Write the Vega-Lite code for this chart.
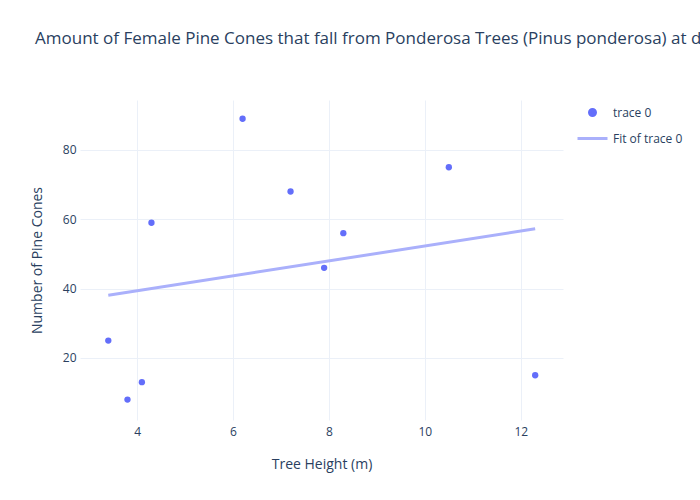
{
  "$schema": "https://vega.github.io/schema/vega-lite/v6.json",
  "width": 483,
  "height": 320,
  "autosize": "none",
  "padding": {"left": 80, "top": 100, "right": 137, "bottom": 80},
  "background": "white",
  "title": {
    "text": "Amount of Female Pine Cones that fall from Ponderosa Trees (Pinus ponderosa) at different Tree Heights",
    "anchor": "start",
    "frame": "group",
    "dx": -45,
    "offset": 48,
    "font": "Open Sans",
    "fontSize": 17,
    "fontWeight": "normal",
    "color": "#2a3f5f",
    "limit": 2000
  },
  "config": {
    "view": {"stroke": null},
    "axis": {
      "domain": false,
      "ticks": false,
      "gridColor": "#ebf0f8",
      "gridWidth": 1,
      "labelFont": "Open Sans",
      "labelFontSize": 12,
      "labelColor": "#2a3f5f",
      "titleFont": "Open Sans",
      "titleFontSize": 14,
      "titleFontWeight": "normal",
      "titleColor": "#2a3f5f"
    },
    "legend": {
      "title": null,
      "orient": "none",
      "legendX": 496,
      "legendY": -4,
      "symbolSize": 900,
      "labelFont": "Open Sans",
      "labelFontSize": 12,
      "labelColor": "#2a3f5f",
      "labelOffset": 4,
      "rowPadding": -18
    }
  },
  "data": {
    "values": [
      {"height": 3.4, "cones": 25, "series": "trace 0"},
      {"height": 3.8, "cones": 8, "series": "trace 0"},
      {"height": 4.1, "cones": 13, "series": "trace 0"},
      {"height": 4.3, "cones": 59, "series": "trace 0"},
      {"height": 6.2, "cones": 89, "series": "trace 0"},
      {"height": 7.2, "cones": 68, "series": "trace 0"},
      {"height": 7.9, "cones": 46, "series": "trace 0"},
      {"height": 8.3, "cones": 56, "series": "trace 0"},
      {"height": 10.5, "cones": 75, "series": "trace 0"},
      {"height": 12.3, "cones": 15, "series": "trace 0"}
    ]
  },
  "layer": [
    {
      "transform": [
        {"regression": "cones", "on": "height"},
        {"calculate": "'Fit of trace 0'", "as": "series"}
      ],
      "mark": {"type": "line", "strokeWidth": 3, "clip": true},
      "encoding": {
        "x": {"field": "height", "type": "quantitative"},
        "y": {"field": "cones", "type": "quantitative"},
        "color": {
          "field": "series",
          "type": "nominal",
          "legend": {
            "encode": {
              "symbols": {
                "update": {
                  "shape": {"signal": "datum.value === 'trace 0' ? 'circle' : 'stroke'"},
                  "size": {"signal": "datum.value === 'trace 0' ? 36 : 900"},
                  "fill": {"signal": "datum.value === 'trace 0' ? '#636efa' : 'transparent'"},
                  "stroke": {"signal": "datum.value === 'trace 0' ? 'transparent' : '#aab0fb'"},
                  "strokeWidth": {"value": 3},
                  "opacity": {"value": 1}
                }
              }
            }
          }
        }
      }
    },
    {
      "mark": {"type": "point", "filled": true, "shape": "circle", "size": 40, "opacity": 1},
      "encoding": {
        "x": {
          "field": "height",
          "type": "quantitative",
          "scale": {"domain": [2.81, 12.88], "zero": false, "nice": false},
          "axis": {"values": [4, 6, 8, 10, 12], "title": "Tree Height (m)", "labelPadding": 6, "titlePadding": 20}
        },
        "y": {
          "field": "cones",
          "type": "quantitative",
          "scale": {"domain": [2.1, 94.4], "zero": false, "nice": false},
          "axis": {"values": [20, 40, 60, 80], "title": "Number of Pine Cones", "labelPadding": 4, "titlePadding": 18}
        },
        "color": {
          "field": "series",
          "type": "nominal",
          "scale": {"domain": ["trace 0", "Fit of trace 0"], "range": ["#636efa", "#aab0fb"]},
          "legend": {
            "encode": {
              "symbols": {
                "update": {
                  "shape": {"signal": "datum.value === 'trace 0' ? 'circle' : 'stroke'"},
                  "size": {"signal": "datum.value === 'trace 0' ? 36 : 900"},
                  "fill": {"signal": "datum.value === 'trace 0' ? '#636efa' : 'transparent'"},
                  "stroke": {"signal": "datum.value === 'trace 0' ? 'transparent' : '#aab0fb'"},
                  "strokeWidth": {"value": 3},
                  "opacity": {"value": 1}
                }
              }
            }
          }
        }
      }
    }
  ]
}
